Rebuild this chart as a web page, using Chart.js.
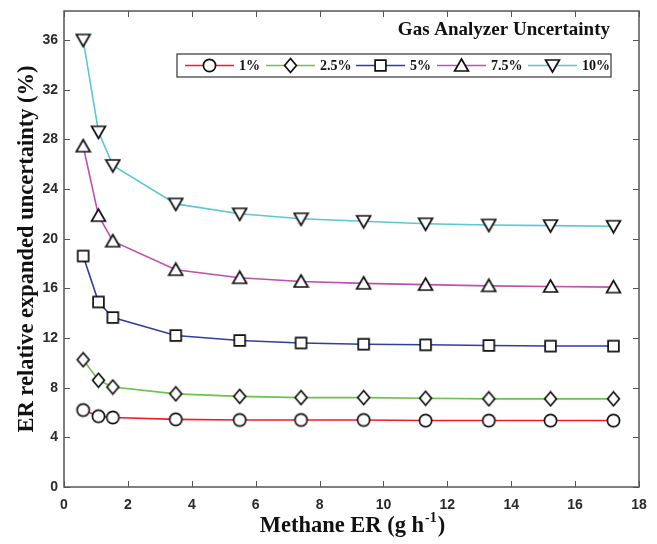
<!DOCTYPE html>
<html><head><meta charset="utf-8">
<script src="https://cdn.jsdelivr.net/npm/chart.js@4.4.1/dist/chart.umd.min.js"></script>
<style>html,body{margin:0;padding:0;background:#fff}#wrap{width:657px;height:544px}</style>
</head><body><div id="wrap"><canvas id="c" width="657" height="544"></canvas></div>
<script>
// ---- data ----
const emissionRates = [0.6, 1.08, 1.53, 3.5, 5.5, 7.42, 9.38, 11.32, 13.3, 15.23, 17.2];
const seriesLabels = ['1%', '2.5%', '5%', '7.5%', '10%'];
const unc1   = [6.2, 5.7, 5.6, 5.45, 5.4, 5.4, 5.4, 5.35, 5.35, 5.35, 5.35];
const unc2_5 = [10.25, 8.6, 8.05, 7.5, 7.3, 7.2, 7.2, 7.15, 7.1, 7.1, 7.1];
const unc5   = [18.6, 14.9, 13.65, 12.2, 11.8, 11.6, 11.5, 11.45, 11.4, 11.35, 11.35];
const unc7_5 = [27.45, 21.85, 19.8, 17.5, 16.85, 16.55, 16.4, 16.3, 16.2, 16.15, 16.1];
const unc10  = [36.0, 28.6, 25.9, 22.8, 22.0, 21.6, 21.4, 21.2, 21.1, 21.05, 21.0];
const xTickValues = [0, 2, 4, 6, 8, 10, 12, 14, 16, 18];
const yTickValues = [0, 4, 8, 12, 16, 20, 24, 28, 32, 36];

const colors = ['#f01e23', '#6cc24a', '#2f3f9e', '#c04fae', '#5cc6d6'];
const markerTypes = ['circle', 'diamond', 'square', 'triUp', 'triDown'];

function makeMarker(type) {
  const c = document.createElement('canvas');
  c.width = 17; c.height = 17;
  const g = c.getContext('2d');
  g.fillStyle = '#fff'; g.strokeStyle = '#111'; g.lineWidth = 1.7;
  g.beginPath();
  const m = 8.5;
  if (type === 'circle') g.arc(m, m, 6.1, 0, Math.PI * 2);
  else if (type === 'square') { g.rect(3.1, 3.1, 10.8, 10.8); }
  else if (type === 'diamond') { g.moveTo(m, 1.5); g.lineTo(14.4, m); g.lineTo(m, 15.5); g.lineTo(2.6, m); g.closePath(); }
  else if (type === 'triUp') { g.moveTo(m, 2); g.lineTo(15.4, 14); g.lineTo(1.6, 14); g.closePath(); }
  else if (type === 'triDown') { g.moveTo(1.6, 3); g.lineTo(15.4, 3); g.lineTo(m, 15); g.closePath(); }
  g.fill(); g.stroke();
  return c;
}
const markers = markerTypes.map(makeMarker);
const allSeries = [unc1, unc2_5, unc5, unc7_5, unc10];

const datasets = allSeries.map((vals, i) => ({
  label: seriesLabels[i],
  data: vals.map((v, k) => ({ x: emissionRates[k], y: v })),
  borderColor: colors[i],
  borderWidth: 1.6,
  pointStyle: markers[i],
  pointRadius: 6,
  pointHoverRadius: 6,
  tension: 0,
  fill: false
}));

const L = 64, R = 639, T = 11, B = 487;
const serif = '"Liberation Serif", "Times New Roman", serif';

const decor = {
  id: 'decor',
  afterDatasetsDraw(chart) {
    const ctx = chart.ctx;
    const xs = chart.scales.x, ys = chart.scales.y;
    ctx.save();
    // box
    ctx.strokeStyle = '#555'; ctx.lineWidth = 1.5;
    ctx.strokeRect(L, T, R - L, B - T);
    // inward ticks
    ctx.lineWidth = 1;
    ctx.beginPath();
    xTickValues.forEach(v => {
      const px = Math.round(xs.getPixelForValue(v)) + 0.5;
      ctx.moveTo(px, B); ctx.lineTo(px, B - 6);
      ctx.moveTo(px, T); ctx.lineTo(px, T + 6);
    });
    yTickValues.forEach(v => {
      const py = Math.round(ys.getPixelForValue(v)) + 0.5;
      ctx.moveTo(L, py); ctx.lineTo(L + 6, py);
      ctx.moveTo(R, py); ctx.lineTo(R - 6, py);
    });
    ctx.stroke();

    // title inside plot
    ctx.fillStyle = '#111';
    ctx.font = 'bold 19px ' + serif;
    ctx.textAlign = 'right'; ctx.textBaseline = 'middle';
    ctx.fillText('Gas Analyzer Uncertainty', 610, 30);

    // legend
    const lx0 = 177, lx1 = 611, ly0 = 54, ly1 = 77;
    ctx.fillStyle = '#fff';
    ctx.fillRect(lx0, ly0, lx1 - lx0, ly1 - ly0);
    ctx.strokeStyle = '#444'; ctx.lineWidth = 1.3;
    ctx.strokeRect(lx0, ly0, lx1 - lx0, ly1 - ly0);
    const lineStarts = [185, 266, 356, 437, 528];
    const cy = 65.5;
    ctx.font = 'bold 14px ' + serif;
    ctx.textAlign = 'left';
    seriesLabels.forEach((lab, i) => {
      const s = lineStarts[i];
      ctx.strokeStyle = colors[i]; ctx.lineWidth = 1.6;
      ctx.beginPath(); ctx.moveTo(s, cy); ctx.lineTo(s + 49, cy); ctx.stroke();
      ctx.drawImage(markers[i], s + 24.5 - 8.5, cy - 8.5);
      ctx.fillStyle = '#111';
      ctx.fillText(lab, s + 54, cy + 1);
    });

    // y title
    ctx.save();
    ctx.translate(27, (T + B) / 2);
    ctx.rotate(-Math.PI / 2);
    ctx.font = 'bold 22.5px ' + serif;
    ctx.textAlign = 'center'; ctx.textBaseline = 'middle';
    ctx.fillStyle = '#111';
    ctx.fillText('ER relative expanded uncertainty (%)', 0, 0);
    ctx.restore();

    // x title with superscript
    const mainFont = 'bold 22.5px ' + serif;
    const supFont = 'bold 14px ' + serif;
    const p1 = 'Methane ER (g h', p2 = '-1', p3 = ')';
    ctx.font = mainFont; const w1 = ctx.measureText(p1).width, w3 = ctx.measureText(p3).width;
    ctx.font = supFont; const w2 = ctx.measureText(p2).width;
    let x = (L + R) / 2 - (w1 + w2 + w3) / 2;
    const by = 532;
    ctx.textAlign = 'left'; ctx.textBaseline = 'alphabetic'; ctx.fillStyle = '#111';
    ctx.font = mainFont; ctx.fillText(p1, x, by); x += w1;
    ctx.font = supFont; ctx.fillText(p2, x + 1, by - 10); x += w2 + 2;
    ctx.font = mainFont; ctx.fillText(p3, x, by);
    ctx.restore();
  }
};

new Chart(document.getElementById('c'), {
  type: 'line',
  data: { datasets },
  options: {
    responsive: false,
    animation: false,
    events: [],
    layout: { padding: { left: 0, right: 657 - R, top: T, bottom: 0 } },
    plugins: { legend: { display: false }, tooltip: { enabled: false }, title: { display: false } },
    scales: {
      x: {
        type: 'linear', min: 0, max: 18,
        afterBuildTicks: s => { s.ticks = xTickValues.map(v => ({ value: v })); },
        afterFit: s => { s.height = 544 - B; },
        grid: { display: false, drawTicks: false },
        border: { display: false },
        ticks: { padding: 10, color: '#2a2a2a', font: { family: '"Liberation Sans", Arial, sans-serif', weight: 'bold', size: 14 }, maxRotation: 0 }
      },
      y: {
        type: 'linear', min: 0, max: 38.06,
        afterBuildTicks: s => { s.ticks = yTickValues.map(v => ({ value: v })); },
        afterFit: s => { s.width = L; },
        grid: { display: false, drawTicks: false },
        border: { display: false },
        ticks: { padding: 6, color: '#2a2a2a', font: { family: '"Liberation Sans", Arial, sans-serif', weight: 'bold', size: 14 } }
      }
    }
  },
  plugins: [decor]
});
</script>
</body></html>
